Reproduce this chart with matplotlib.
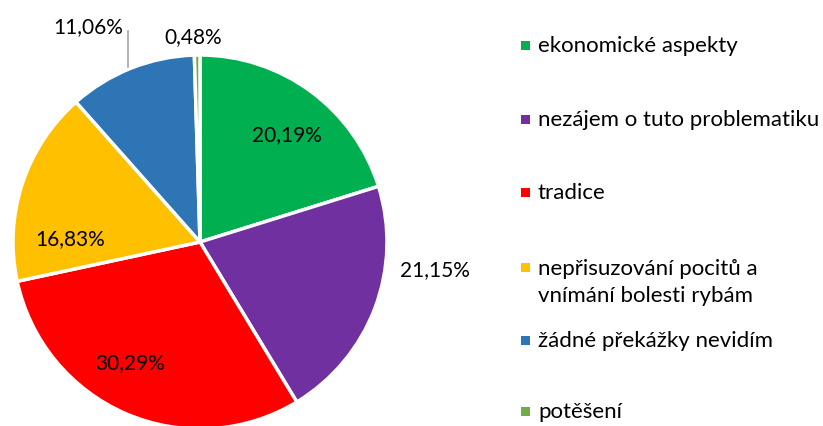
import matplotlib
matplotlib.use("Agg")
import matplotlib.pyplot as plt
from matplotlib.patches import Rectangle

categories = [
    "ekonomické aspekty",
    "nezájem o tuto problematiku",
    "tradice",
    "nepřisuzování pocitů a\nvnímání bolesti rybám",
    "žádné překážky nevidím",
    "potěšení",
]
values = [20.19, 21.15, 30.29, 16.83, 11.06, 0.48]
colors = ["#00B050", "#7030A0", "#FF0000", "#FFC000", "#2E75B6", "#70AD47"]

W, H = 823, 427
plt.rcParams["font.family"] = ["Lato", "DejaVu Sans"]
fig = plt.figure(figsize=(W / 100, H / 100), dpi=100)
ax = fig.add_axes([0, 0, 1, 1])

cx, cy, r = 200, H - 243, 187
ax.pie(values, colors=colors, startangle=90, counterclock=False,
       center=(cx, cy), radius=r, frame=True,
       wedgeprops=dict(edgecolor="white", linewidth=2.5))
ax.set_xlim(0, W)
ax.set_ylim(0, H)
ax.set_aspect("equal")
ax.axis("off")

def lbl(v):
    return f"{v:.2f}%".replace(".", ",")

# data label positions (pixels, y measured from top)
label_pos = [(287, 135), (435, 270), (130, 363), (70, 239), (88, 27), (193, 37)]
for v, (x, y) in zip(values, label_pos):
    ax.text(x, H - y, lbl(v), ha="center", va="center", fontsize=15, color="#000000")

# leader line for the blue slice label
ax.plot([128, 128], [H - 32, H - 68], color="#A6A6A6", lw=1.2)

# legend
rows = [46, 120, 193, 268, 341, 412]
for name, col, y in zip(categories, colors, rows):
    ax.add_patch(Rectangle((521, H - y - 4.5), 9, 9, color=col, lw=0))
    if "\n" in name:
        ax.text(538, H - y - 14.5, name, ha="left", va="center",
                fontsize=16, color="#000000", linespacing=1.4)
    else:
        ax.text(538, H - y, name, ha="left", va="center",
                fontsize=16, color="#000000")

fig.savefig("out.png", dpi=100)
